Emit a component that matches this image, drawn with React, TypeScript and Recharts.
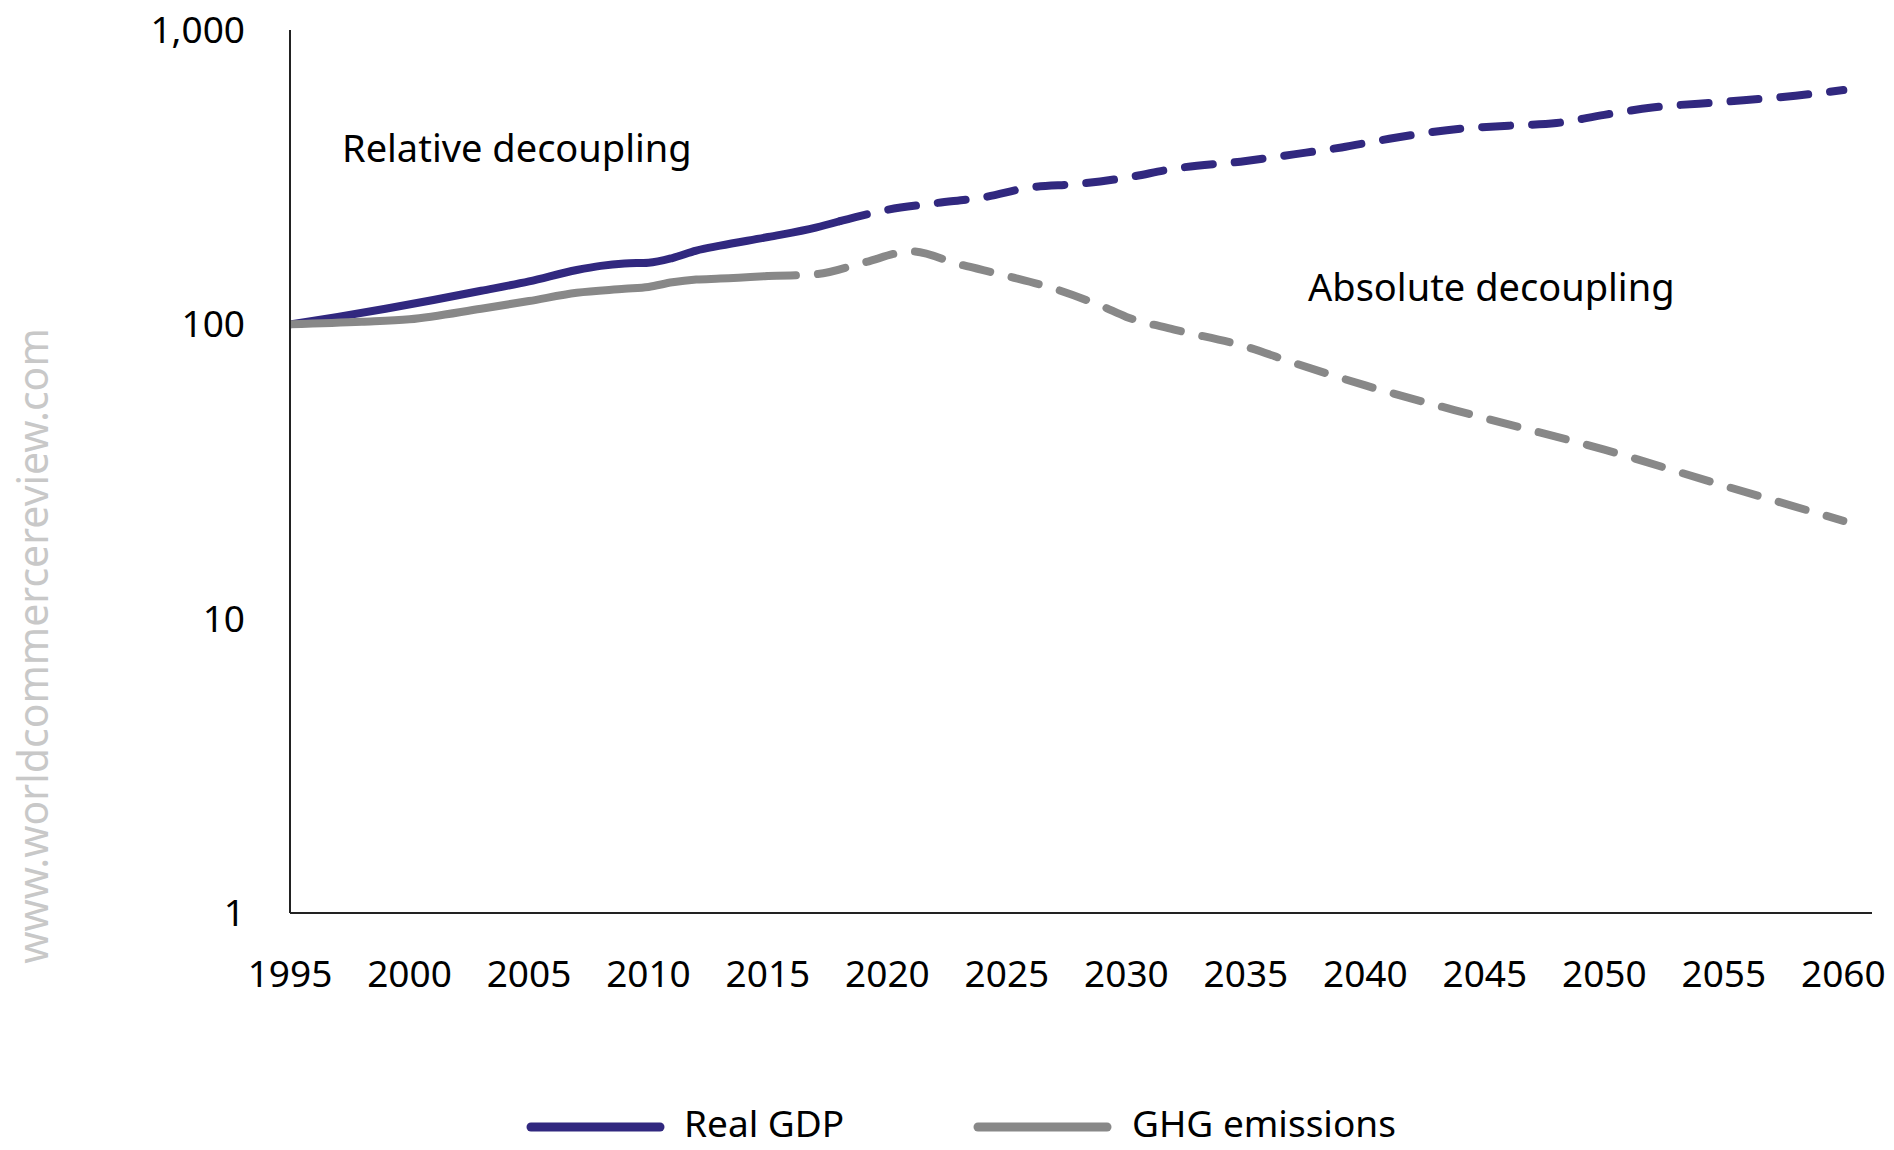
import React from 'react';
import { LineChart, Line, XAxis, YAxis } from 'recharts';

// x axis ticks (years) and y axis ticks (log scale, index)
const xTicks = [1995, 2000, 2005, 2010, 2015, 2020, 2025, 2030, 2035, 2040, 2045, 2050, 2055, 2060];
const yTicks = [1, 10, 100, 1000];

// Real GDP, index 1995 = 100
const gdpHistYears = [1995, 1997, 1999, 2001, 2003, 2005, 2007, 2008, 2009, 2010, 2011, 2012, 2013, 2015, 2017, 2018];
const gdpHistValues = [100, 106, 113, 121, 130, 140, 153, 158, 161, 162, 168, 178, 185, 198, 213, 224];
const gdpProjYears = [2018, 2020, 2022, 2024, 2026, 2028, 2030, 2032, 2035, 2037, 2039, 2041, 2044, 2046, 2048, 2050, 2052, 2055, 2058, 2060];
const gdpProjValues = [224, 245, 258, 270, 292, 300, 315, 338, 359, 378, 399, 427, 462, 473, 483, 515, 545, 570, 598, 625];

// GHG emissions, index 1995 = 100
const ghgHistYears = [1995, 1998, 2000, 2003, 2005, 2007, 2009, 2010, 2011, 2012, 2013, 2015];
const ghgHistValues = [100, 102, 104, 113, 120, 128, 132, 134, 139, 142, 143, 146];
const ghgProjYears = [2015, 2017, 2019, 2021, 2023, 2025, 2027, 2029, 2030, 2032, 2035, 2037, 2040, 2045, 2050, 2055, 2060];
const ghgProjValues = [146, 148, 162, 177, 160, 146, 132, 115, 106, 96, 84, 74, 62, 48, 37.5, 28.3, 21.5];

const GDP_COLOR = '#31287f';
const GHG_COLOR = '#888888';
const FONT = '"Noto Sans", "Open Sans", sans-serif';

const toPoints = (years: number[], values: number[]) =>
  years.map((year, i) => ({ year, value: values[i] }));

const formatTick = (v: number) => v.toLocaleString('en-US');

export default function App() {
  const W = 1894;
  const H = 1150;

  return (
    <div style={{ position: 'absolute', left: 0, top: 0, width: W, height: H, background: '#fff', fontFamily: FONT }}>
      <LineChart width={W} height={H} margin={{ top: 30, right: 22, left: 0, bottom: 0 }}>
        <XAxis
          type="number"
          dataKey="year"
          domain={[1995, 2061.2]}
          ticks={xTicks}
          allowDataOverflow
          height={237}
          tickLine={false}
          tickSize={0}
          tickMargin={48}
          axisLine={{ stroke: '#222', strokeWidth: 2 }}
          tick={{ fill: '#000', fontSize: 37, fontFamily: FONT }}
          interval={0}
        />
        <YAxis
          type="number"
          dataKey="value"
          scale="log"
          domain={[1, 1000]}
          ticks={yTicks}
          allowDataOverflow
          width={290}
          tickLine={false}
          tickSize={0}
          tickMargin={45}
          tickFormatter={formatTick}
          axisLine={{ stroke: '#222', strokeWidth: 2 }}
          tick={{ fill: '#000', fontSize: 37, fontFamily: FONT }}
          interval={0}
        />
        <Line
          data={toPoints(gdpHistYears, gdpHistValues)}
          dataKey="value"
          type="monotone"
          stroke={GDP_COLOR}
          strokeWidth={8}
          strokeLinecap="round"
          dot={false}
          isAnimationActive={false}
          name="Real GDP"
        />
        <Line
          data={toPoints(gdpProjYears, gdpProjValues)}
          dataKey="value"
          type="monotone"
          stroke={GDP_COLOR}
          strokeWidth={8}
          strokeLinecap="round"
          strokeDasharray="28 22"
          dot={false}
          isAnimationActive={false}
          name="Real GDP projection"
        />
        <Line
          data={toPoints(ghgHistYears, ghgHistValues)}
          dataKey="value"
          type="monotone"
          stroke={GHG_COLOR}
          strokeWidth={8}
          strokeLinecap="round"
          dot={false}
          isAnimationActive={false}
          name="GHG emissions"
        />
        <Line
          data={toPoints(ghgProjYears, ghgProjValues)}
          dataKey="value"
          type="monotone"
          stroke={GHG_COLOR}
          strokeWidth={8}
          strokeLinecap="round"
          strokeDasharray="28 22"
          dot={false}
          isAnimationActive={false}
          name="GHG emissions projection"
        />
      </LineChart>

      {/* annotations, watermark and legend */}
      <svg
        width={W}
        height={H}
        style={{ position: 'absolute', left: 0, top: 0, pointerEvents: 'none' }}
        fontFamily={FONT}
      >
        <text x={342} y={162} fontSize={38} fill="#000">Relative decoupling</text>
        <text x={1308} y={301} fontSize={38} fill="#000">Absolute decoupling</text>
        <text
          x={48}
          y={646}
          fontSize={41}
          fill="#c8c8c8"
          textAnchor="middle"
          transform="rotate(-90 48 646)"
        >
          www.worldcommercereview.com
        </text>

        <line x1={531} y1={1127} x2={660} y2={1127} stroke={GDP_COLOR} strokeWidth={9} strokeLinecap="round" />
        <text x={684} y={1137} fontSize={37} fill="#000">Real GDP</text>
        <line x1={978} y1={1127} x2={1107} y2={1127} stroke={GHG_COLOR} strokeWidth={9} strokeLinecap="round" />
        <text x={1132} y={1137} fontSize={37} fill="#000">GHG emissions</text>
      </svg>
    </div>
  );
}
